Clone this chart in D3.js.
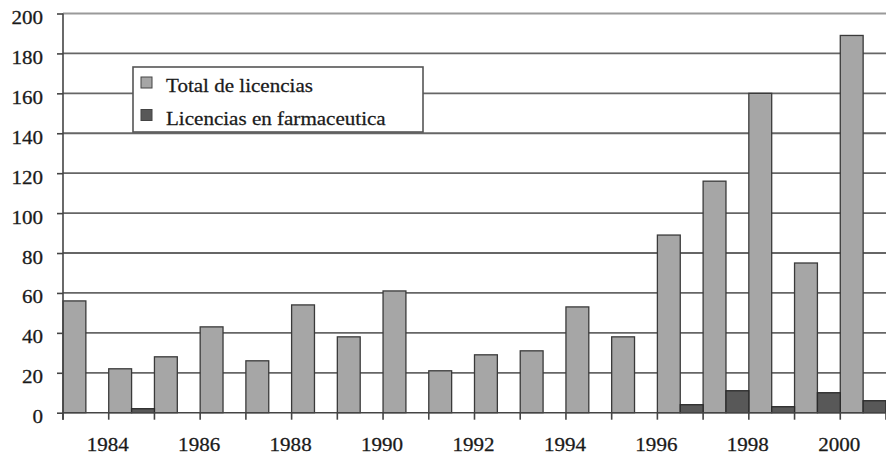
<!DOCTYPE html>
<html><head><meta charset="utf-8">
<script src="https://cdn.jsdelivr.net/npm/d3@7"></script>
<style>html,body{margin:0;padding:0;background:#fff;}svg{display:block;}</style>
</head><body>
<svg id="chart" width="886" height="456"></svg>
<script>
const years = [1983,1984,1985,1986,1987,1988,1989,1990,1991,1992,1993,1994,1995,1996,1997,1998,1999,2000];
const yearLabels = [1984,1986,1988,1990,1992,1994,1996,1998,2000];
const totalLicencias = [56,22,28,43,26,54,38,61,21,29,31,53,38,89,116,160,75,189];
const farmaLicencias = [0,2,0,0,0,0,0,0,0,0,0,0,0,4,11,3,10,6];
const yTicks = [0,20,40,60,80,100,120,140,160,180,200];
const seriesNames = ["Total de licencias","Licencias en farmaceutica"];
const seriesColors = ["#a6a6a6","#585858"];

const svg = d3.select("#chart");
const FONT = "Liberation Serif";
const SX = 1.17;

const x = d3.scaleBand().domain(years).range([63, 886]).paddingInner(0).paddingOuter(0);
const y = d3.scaleLinear().domain([0, 200]).range([412.7, 13.5]);
const bw = x.bandwidth();

function styleText(sel) {
  sel.attr("font-family", FONT).attr("font-size", 18).attr("fill", "#1a1a1a")
    .attr("stroke", "#1a1a1a").attr("stroke-width", 0.25);
}

// gridlines
svg.append("g").selectAll("line").data(yTicks.filter(d => d > 0)).join("line")
  .attr("x1", 63).attr("x2", 886)
  .attr("y1", d => y(d)).attr("y2", d => y(d))
  .attr("stroke", d => d === 200 ? "#9a9a9a" : "#666")
  .attr("stroke-width", 1.8);

// bars
const data = years.map((yr, i) => ({yr, t: totalLicencias[i], f: farmaLicencias[i]}));
svg.append("g").selectAll("rect").data(data).join("rect")
  .attr("x", d => x(d.yr)).attr("width", bw / 2)
  .attr("y", d => y(d.t)).attr("height", d => y(0) - y(d.t))
  .attr("fill", seriesColors[0]).attr("stroke", "#3a3a3a").attr("stroke-width", 1.3);
svg.append("g").selectAll("rect").data(data.filter(d => d.f > 0)).join("rect")
  .attr("x", d => x(d.yr) + bw / 2).attr("width", bw / 2)
  .attr("y", d => y(d.f)).attr("height", d => y(0) - y(d.f))
  .attr("fill", seriesColors[1]).attr("stroke", "#2a2a2a").attr("stroke-width", 1.3);

// y axis
const yAxis = svg.append("g").attr("transform", "translate(63,0)")
  .call(d3.axisLeft(y).tickValues(yTicks).tickSize(6).tickSizeOuter(0));
yAxis.attr("font-family", null).attr("font-size", null);
yAxis.select(".domain").attr("stroke", "#444").attr("stroke-width", 1.6)
  .attr("d", `M0,${y(200)}V${y(0) + 7}`);
yAxis.selectAll(".tick line").attr("stroke", "#444").attr("stroke-width", 1.6);
yAxis.selectAll(".tick text")
  .attr("x", 0).attr("dy", 0)
  .attr("transform", `translate(-20,10) scale(${SX},1)`)
  .attr("text-anchor", "end")
  .call(styleText);

// x axis baseline
svg.append("line").attr("x1", 63).attr("x2", 886).attr("y1", y(0)).attr("y2", y(0))
  .attr("stroke", "#444").attr("stroke-width", 1.6);
// x ticks at category boundaries
const boundaries = years.map(d => x(d)).concat([x(years[years.length - 1]) + bw]);
svg.append("g").selectAll("line").data(boundaries).join("line")
  .attr("x1", d => d).attr("x2", d => d)
  .attr("y1", y(0)).attr("y2", y(0) + 7)
  .attr("stroke", "#444").attr("stroke-width", 1.6);
// x labels
svg.append("g").selectAll("text").data(yearLabels).join("text")
  .attr("transform", d => `translate(${x(d) - 1},451) scale(${SX},1)`)
  .attr("text-anchor", "middle")
  .call(styleText)
  .text(d => d);

// legend
const lg = svg.append("g");
lg.append("rect").attr("x", 133).attr("y", 67).attr("width", 290).attr("height", 65)
  .attr("fill", "#fff").attr("stroke", "#555").attr("stroke-width", 1.6);
seriesNames.forEach((name, i) => {
  const yy = 77 + i * 32.5;
  lg.append("rect").attr("x", 141).attr("y", yy).attr("width", 11).attr("height", 11)
    .attr("fill", seriesColors[i]).attr("stroke", "#444").attr("stroke-width", 1);
  lg.append("text")
    .attr("transform", `translate(166,${yy + 15}) scale(${SX},1)`)
    .call(styleText)
    .text(name);
});
</script>
</body></html>
